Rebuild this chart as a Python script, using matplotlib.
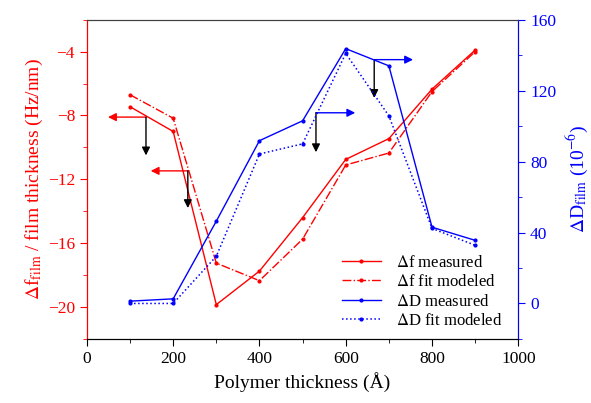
import matplotlib
matplotlib.use("Agg")
import matplotlib.pyplot as plt
from matplotlib.ticker import MultipleLocator

plt.rcParams.update({"font.family": "Liberation Serif", "font.size": 12, "mathtext.fontset": "stix"})

thickness = [100, 200, 300, 400, 500, 600, 700, 800, 900]
df_measured = [-7.45, -9.0, -19.85, -17.75, -14.4, -10.75, -9.45, -6.35, -3.9]
df_fit = [-6.7, -8.17, -17.25, -18.35, -15.75, -11.1, -10.35, -6.5, -4.0]
dD_measured = [1.3, 2.6, 46.4, 91.8, 103, 143.7, 134, 43, 35.6]
dD_fit = [0, 0, 26.6, 84.3, 90, 141, 105.8, 42.3, 32.8]

# (corner x, corner y, colour arrow end x, black arrow end y, colour) in left-axis units
arrows = [(137, -8.1, 49, -10.5, "red"),
          (234, -11.47, 148, -13.8, "red"),
          (531, -7.83, 622, -10.3, "blue"),
          (666, -4.5, 756, -6.9, "blue")]

red, blue = "#ff0000", "#0000ff"
fig = plt.figure(figsize=(5.91, 4.03), dpi=100)
ax = fig.add_axes([0.147, 0.159, 0.730, 0.792])
ax2 = ax.twinx()

l1, = ax.plot(thickness, df_measured, "-o", color=red, lw=1, ms=2, label=r"$\Delta$f measured")
l2, = ax.plot(thickness, df_fit, "-.o", color=red, lw=1, ms=2, label=r"$\Delta$f fit modeled")
l3, = ax2.plot(thickness, dD_measured, "-o", color=blue, lw=1, ms=2, label=r"$\Delta$D measured")
l4, = ax2.plot(thickness, dD_fit, ":o", color=blue, lw=1.1, ms=2, label=r"$\Delta$D fit modeled")

for x0, y0, xe, ye, c in arrows:
    ax.annotate("", xy=(xe, y0), xytext=(x0, y0),
                arrowprops=dict(arrowstyle="-|>", color=c, lw=1, mutation_scale=12, shrinkA=0, shrinkB=0))
    ax.annotate("", xy=(x0, ye), xytext=(x0, y0),
                arrowprops=dict(arrowstyle="-|>", color="black", lw=1, mutation_scale=12, shrinkA=0, shrinkB=0))

ax.set_xlim(0, 1000)
ax.set_ylim(-22, -2)
ax2.set_ylim(-20, 160)
ax.xaxis.set_major_locator(MultipleLocator(200))
ax.xaxis.set_minor_locator(MultipleLocator(100))
ax.yaxis.set_major_locator(MultipleLocator(4))
ax.yaxis.set_minor_locator(MultipleLocator(2))
ax2.yaxis.set_major_locator(MultipleLocator(40))
ax2.yaxis.set_minor_locator(MultipleLocator(20))

ax.tick_params(which="both", direction="out", top=False)
ax.tick_params(axis="y", which="both", colors=red, labelsize=12.5)
ax.tick_params(axis="x", labelsize=12.5)
ax2.tick_params(axis="y", which="both", colors=blue, labelsize=12.5)
for a in (ax, ax2):
    a.tick_params(which="major", length=5)
    a.tick_params(which="minor", length=3)

ax.spines["left"].set_color(red)
ax2.spines["left"].set_color(red)
ax2.spines["right"].set_color(blue)
ax.spines["top"].set_color("0.25")
ax2.spines["top"].set_color("0.25")

ax.set_xlabel("Polymer thickness (Å)", fontsize=14)
ax.set_ylabel(r"$\Delta$f$_{\mathrm{film}}$ / film thickness (Hz/nm)", color=red, fontsize=14, labelpad=2)
ax2.set_ylabel(r"$\Delta$D$_{\mathrm{film}}$ (10$^{-6}$)", color=blue, fontsize=14, labelpad=6)

ax2.legend(handles=[l1, l2, l3, l4], loc="lower right", bbox_to_anchor=(0.985, 0.0),
           borderaxespad=0.2, frameon=False, fontsize=12, handlelength=2.3,
           handletextpad=0.9, labelspacing=0.2)

fig.savefig("out.png", dpi=100)
